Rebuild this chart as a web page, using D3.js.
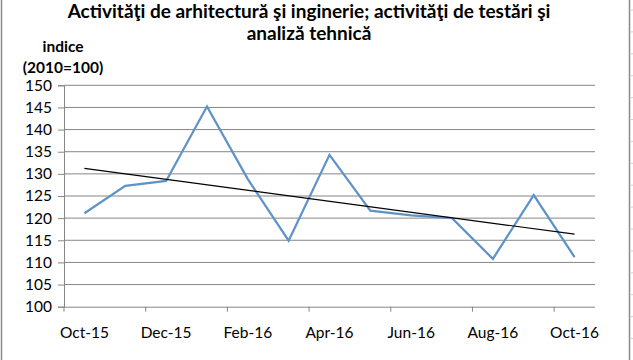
<!DOCTYPE html>
<html>
<head>
<meta charset="utf-8">
<script src="https://cdn.jsdelivr.net/npm/d3@7"></script>
<style>
  html, body { margin: 0; padding: 0; background: #fff; }
  svg { display: block; font-family: Lato, "Open Sans", sans-serif; }
</style>
</head>
<body>
<svg id="chart" width="633" height="360"></svg>
<script>
const months = ["Oct-15","Nov-15","Dec-15","Jan-16","Feb-16","Mar-16","Apr-16","May-16","Jun-16","Jul-16","Aug-16","Sep-16","Oct-16"];
const values = [121.1,127.3,128.4,145.2,128.8,114.9,134.3,121.7,120.6,120.0,110.8,125.2,111.2];
const xTickLabels = ["Oct-15","Dec-15","Feb-16","Apr-16","Jun-16","Aug-16","Oct-16"];
const yTicks = [100,105,110,115,120,125,130,135,140,145,150];
const titleLines = ["Activităţi de arhitectură şi inginerie; activităţi de testări şi", "analiză tehnică"];
const yLabelLines = ["indice", "(2010=100)"];

(function () {
const svg = d3.select("#chart");
const W = 633, H = 360;
const pLeft = 64, pRight = 595, pTop = 85.3, pBottom = 306.7;

// chart area frame
svg.append("line").attr("x1", 1.5).attr("x2", 1.5).attr("y1", 0).attr("y2", H)
  .attr("stroke", "#8a8a8a").attr("stroke-width", 1.5);
svg.append("line").attr("x1", 629.5).attr("x2", 629.5).attr("y1", 0).attr("y2", H)
  .attr("stroke", "#8a8a8a").attr("stroke-width", 1.5);
// spreadsheet cell lines peeking on the right
svg.append("g").selectAll("line").data(d3.range(10, H, 21.9)).join("line")
  .attr("x1", 631).attr("x2", 633).attr("y1", d => d).attr("y2", d => d)
  .attr("stroke", "#d0d0d0");

const x = d3.scaleBand().domain(months).range([pLeft, pRight]).padding(0);
const y = d3.scaleLinear().domain([100, 150]).range([pBottom, pTop]);
const bw = x.bandwidth();

// gridlines
svg.append("g").selectAll("line").data(yTicks.filter(d => d !== 100)).join("line")
  .attr("x1", pLeft).attr("x2", pRight)
  .attr("y1", d => y(d)).attr("y2", d => y(d))
  .attr("stroke", "#868686").attr("stroke-width", 1);

// y axis
const yAxis = svg.append("g").attr("transform", `translate(${pLeft},0)`)
  .call(d3.axisLeft(y).tickValues(yTicks).tickSize(6).tickFormat(d3.format("d")));
yAxis.select(".domain").attr("stroke", "#868686");
yAxis.selectAll(".tick line").attr("stroke", "#868686");
yAxis.selectAll(".tick text").attr("font-size", 15.5).attr("fill", "#000")
  .attr("font-family", "Lato, sans-serif").attr("x", -12);

// x axis
const xAxis = svg.append("g").attr("transform", `translate(0,${pBottom})`)
  .call(d3.axisBottom(x).tickValues(xTickLabels).tickSize(5));
xAxis.select(".domain").attr("stroke", "#868686").attr("d", `M${pLeft},0.5H${pRight}`);
xAxis.selectAll(".tick line").attr("stroke", "#868686")
  .attr("x1", -bw / 2).attr("x2", -bw / 2);
xAxis.selectAll(".tick text").attr("font-size", 15.5).attr("fill", "#000")
  .attr("font-family", "Lato, sans-serif").attr("y", 20);

// data line
const cx = d => x(d) + bw / 2;
const line = d3.line().x((d, i) => cx(months[i])).y(d => y(d));
svg.append("path").datum(values).attr("d", line)
  .attr("fill", "none").attr("stroke", "#5f93c8").attr("stroke-width", 2.25)
  .attr("stroke-linejoin", "miter");

// linear trend (least squares)
const n = values.length;
const idx = d3.range(n);
const mx = d3.mean(idx), my = d3.mean(values);
const slope = d3.sum(idx, i => (i - mx) * (values[i] - my)) / d3.sum(idx, i => (i - mx) ** 2);
const icpt = my - slope * mx;
const trend = [0, n - 1].map(i => ({ i, v: icpt + slope * i }));
svg.append("path").datum(trend)
  .attr("d", d3.line().x(d => cx(months[d.i])).y(d => y(d.v)))
  .attr("fill", "none").attr("stroke", "#000").attr("stroke-width", 1.2);

// title
svg.append("g").selectAll("text").data(titleLines).join("text")
  .attr("x", 309).attr("y", (d, i) => 17.5 + i * 22.5)
  .attr("text-anchor", "middle").attr("font-weight", "bold").attr("font-size", 19)
  .attr("fill", "#000").text(d => d);

// y label
svg.append("g").selectAll("text").data(yLabelLines).join("text")
  .attr("x", 63).attr("y", (d, i) => 52 + i * 21)
  .attr("text-anchor", "middle").attr("font-weight", "bold").attr("font-size", 15.5)
  .attr("fill", "#000").text(d => d);
})();
</script>
</body>
</html>
